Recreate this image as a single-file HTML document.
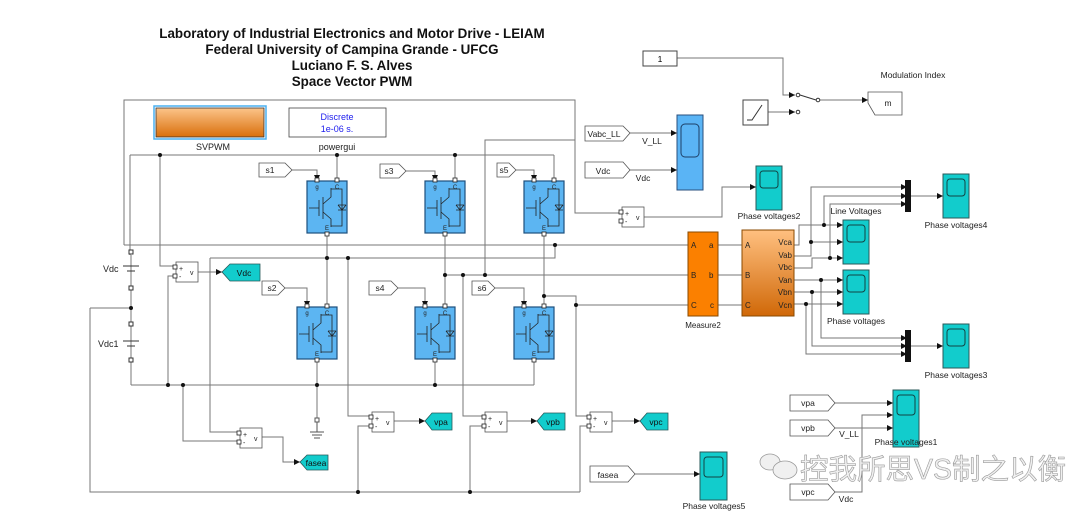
<!DOCTYPE html>
<html><head><meta charset="utf-8"><style>
html,body{margin:0;padding:0;background:#fff;}
svg{display:block;font-family:"Liberation Sans",sans-serif;}
</style></head><body>
<svg width="1080" height="520" viewBox="0 0 1080 520" xmlns="http://www.w3.org/2000/svg">
<defs>
<linearGradient id="og" x1="0" y1="0" x2="0" y2="1"><stop offset="0" stop-color="#fcc48a"/><stop offset="1" stop-color="#d96f0c"/></linearGradient>
<linearGradient id="og2" x1="0" y1="0" x2="0" y2="1"><stop offset="0" stop-color="#ffc080"/><stop offset="1" stop-color="#d06808"/></linearGradient>
<g id="igbt">
<rect x="0" y="0" width="40" height="52" fill="#5cb5f2" stroke="#1d4f7d" stroke-width="1.2"/>
<rect x="8" y="-3" width="4" height="4" fill="#fff" stroke="#222" stroke-width="0.8"/>
<rect x="28" y="-3" width="4" height="4" fill="#fff" stroke="#222" stroke-width="0.8"/>
<rect x="18" y="51" width="4" height="4" fill="#fff" stroke="#222" stroke-width="0.8"/>
<g stroke="#222" stroke-width="0.8" fill="none">
<path d="M2 27H12M12 19V35M16 16V38M16 23L24 16V7M16 31L24 38V46M24 8H35V45H24M31 24H39M31 24L35 29L39 24M31 29H39"/>
</g>
</g>
<g id="scope">
<rect x="0" y="0" width="26" height="44" fill="#12cccc" stroke="#2a5a5a" stroke-width="1"/>
<rect x="4" y="5" width="18" height="17" rx="3" fill="none" stroke="#114444" stroke-width="1"/>
</g>
<g id="vm">
<rect x="0" y="0" width="22" height="20" fill="#fff" stroke="#555" stroke-width="0.8"/>
<rect x="-3" y="3" width="4" height="4" fill="#fff" stroke="#222" stroke-width="0.8"/>
<rect x="-3" y="12" width="4" height="4" fill="#fff" stroke="#222" stroke-width="0.8"/>
</g>
</defs>

<!-- title -->
<g font-weight="bold" font-size="13.4" text-anchor="middle" fill="#111">
<text x="352" y="38">Laboratory of Industrial Electronics and Motor Drive - LEIAM</text>
<text x="352" y="54">Federal University of Campina Grande - UFCG</text>
<text x="352" y="70">Luciano F. S. Alves</text>
<text x="352" y="86">Space Vector  PWM</text>
</g>

<g stroke="#777" stroke-width="1" fill="none">
<path d="M124 245V100H575V140H485V275"/>
<path d="M575 140V213H622"/>
<path d="M130 155H554M130 155V255M160 155V266H176M337 155V181M455 155V181M554 155V181"/>
<path d="M327 236V307M124 245H688M210 258H555V245"/>
<path d="M348 258V416H372"/>
<path d="M445 236V307M445 275H688"/>
<path d="M463 275V416H485"/>
<path d="M544 236V307M544 296H576V305M576 305H688M576 305V416H590"/>
<path d="M575 100V140"/>
<path d="M131 385H534M317 362V420M435 362V385M534 362V385"/>
<path d="M168 385V276H176M183 385V441H240M210 258V432H240"/>
<path d="M131 255V385M90 308H131M90 308V492H580M358 492V426H372M470 492V426H485M580 492V426H590"/>
<path d="M292 170H317V181M406 171H435V181M516 170H534V181M285 288H307V307M398 288H425V307M495 288H524V307"/>
<path d="M198 272H222M394 421H425M507 421H537M612 421H640M262 437H283V462H300"/>
<path d="M644 217H722V187H756"/>
<path d="M718 245H742M718 275H742M718 305H742"/>
<path d="M794 245H799V225H843M824 225V196H907M794 256H811V187H907M811 242H843M794 268H812V258H843M830 258V204H907"/>
<path d="M794 280H843M821 280V338H907M794 292H843M812 292V346H907M794 304H843M806 304V354H907"/>
<path d="M911 196H943M911 346H943"/>
<path d="M630 133H677M630 170H677"/>
<path d="M677 58H783V95H795M768 112H795M818 100H868"/>
<path d="M835 403H893M835 428H862V415H893M835 492H862V428H893"/>
<path d="M635 474H700"/>
</g>
<g fill="#111">
<path d="M677 133l-6-3v6zM677 170l-6-3v6zM756 187l-6-3v6zM843 225l-6-3v6zM843 242l-6-3v6zM843 258l-6-3v6zM843 280l-6-3v6zM843 292l-6-3v6zM843 304l-6-3v6zM907 187l-6-3v6zM907 196l-6-3v6zM907 204l-6-3v6zM907 338l-6-3v6zM907 346l-6-3v6zM907 354l-6-3v6zM943 196l-6-3v6zM943 346l-6-3v6zM795 95l-6-3v6zM795 112l-6-3v6zM868 100l-6-3v6zM893 403l-6-3v6zM893 415l-6-3v6zM893 428l-6-3v6zM700 474l-6-3v6zM222 272l-6-3v6zM425 421l-6-3v6zM537 421l-6-3v6zM640 421l-6-3v6zM300 462l-6-3v6z"/>
<path d="M317 181l-3-6h6zM435 181l-3-6h6zM534 181l-3-6h6zM307 307l-3-6h6zM425 307l-3-6h6zM524 307l-3-6h6z"/>
<g>
<circle cx="160" cy="155" r="2"/><circle cx="337" cy="155" r="2"/><circle cx="455" cy="155" r="2"/>
<circle cx="327" cy="258" r="2"/><circle cx="348" cy="258" r="2"/><circle cx="555" cy="245" r="2"/>
<circle cx="445" cy="275" r="2"/><circle cx="463" cy="275" r="2"/><circle cx="485" cy="275" r="2"/>
<circle cx="544" cy="296" r="2"/><circle cx="576" cy="305" r="2"/>
<circle cx="168" cy="385" r="2"/><circle cx="183" cy="385" r="2"/><circle cx="317" cy="385" r="2"/><circle cx="435" cy="385" r="2"/>
<circle cx="131" cy="308" r="2"/><circle cx="358" cy="492" r="2"/><circle cx="470" cy="492" r="2"/>
<circle cx="824" cy="225" r="2"/><circle cx="811" cy="242" r="2"/><circle cx="830" cy="258" r="2"/>
<circle cx="821" cy="280" r="2"/><circle cx="812" cy="292" r="2"/><circle cx="806" cy="304" r="2"/>
</g>
</g>

<rect x="154" y="106" width="112" height="33" fill="none" stroke="#4ab0f0" stroke-width="1.5"/>
<rect x="156" y="108" width="108" height="29" fill="url(#og)" stroke="#333" stroke-width="0.8"/>
<text x="213" y="150" font-size="9" text-anchor="middle" fill="#222">SVPWM</text>
<rect x="289" y="108" width="97" height="29" fill="#fff" stroke="#444" stroke-width="0.8"/>
<text x="337" y="120" font-size="9" text-anchor="middle" fill="#2020ee">Discrete</text>
<text x="337" y="132" font-size="9" text-anchor="middle" fill="#2020ee">1e-06 s.</text>
<text x="337" y="150" font-size="9" text-anchor="middle" fill="#222">powergui</text>

<g font-size="6" fill="#222" text-anchor="middle">
<g transform="translate(307,181)"><use href="#igbt"/><text x="10" y="8">g</text><text x="30" y="8">C</text><text x="20" y="49">E</text></g>
<g transform="translate(425,181)"><use href="#igbt"/><text x="10" y="8">g</text><text x="30" y="8">C</text><text x="20" y="49">E</text></g>
<g transform="translate(524,181)"><use href="#igbt"/><text x="10" y="8">g</text><text x="30" y="8">C</text><text x="20" y="49">E</text></g>
<g transform="translate(297,307)"><use href="#igbt"/><text x="10" y="8">g</text><text x="30" y="8">C</text><text x="20" y="49">E</text></g>
<g transform="translate(415,307)"><use href="#igbt"/><text x="10" y="8">g</text><text x="30" y="8">C</text><text x="20" y="49">E</text></g>
<g transform="translate(514,307)"><use href="#igbt"/><text x="10" y="8">g</text><text x="30" y="8">C</text><text x="20" y="49">E</text></g>
</g>

<g fill="#fff" stroke="#555" stroke-width="0.8">
<path d="M259 163H285L292 170L285 177H259Z"/><path d="M380 164H399L406 171L399 178H380Z"/><path d="M497 163H509L516 170L509 177H497Z"/>
<path d="M262 281H278L285 288L278 295H262Z"/><path d="M369 281H391L398 288L391 295H369Z"/><path d="M472 281H488L495 288L488 295H472Z"/>
<path d="M585 126H623L630 133L623 141H585Z"/><path d="M585 162H623L630 170L623 178H585Z"/>
<path d="M590 466H628L635 474L628 482H590Z"/>
<path d="M790 395H828L835 403L828 411H790Z"/><path d="M790 420H828L835 428L828 436H790Z"/><path d="M790 484H828L835 492L828 500H790Z"/>
<path d="M868 92H902V115H875L868 103Z"/>
</g>
<g font-size="8.5" fill="#222" text-anchor="middle">
<text x="270" y="173">s1</text><text x="389" y="174">s3</text><text x="504" y="173">s5</text>
<text x="272" y="291">s2</text><text x="380" y="291">s4</text><text x="482" y="291">s6</text>
<text x="604" y="137">Vabc_LL</text><text x="603" y="174">Vdc</text>
<text x="608" y="478">fasea</text>
<text x="808" y="406">vpa</text><text x="808" y="431">vpb</text><text x="808" y="495">vpc</text>
<text x="888" y="106">m</text>
</g>

<g fill="#12cccc" stroke="#2a5a5a" stroke-width="0.8">
<path d="M222 272L230 264H260V281H230Z"/>
<path d="M300 462L307 455H328V470H307Z"/>
<path d="M425 421L432 413H452V430H432Z"/>
<path d="M537 421L544 413H565V430H544Z"/>
<path d="M640 421L647 413H668V430H647Z"/>
</g>
<g font-size="8.5" fill="#111" text-anchor="middle">
<text x="244" y="276">Vdc</text><text x="316" y="466">fasea</text>
<text x="441" y="425">vpa</text><text x="553" y="425">vpb</text><text x="656" y="425">vpc</text>
</g>

<g font-size="7" fill="#222">
<g transform="translate(176,262)"><use href="#vm"/><text x="3" y="9">+</text><text x="3" y="17">-</text><text x="14" y="13">v</text></g>
<g transform="translate(240,428)"><use href="#vm"/><text x="3" y="9">+</text><text x="3" y="17">-</text><text x="14" y="13">v</text></g>
<g transform="translate(372,412)"><use href="#vm"/><text x="3" y="9">+</text><text x="3" y="17">-</text><text x="14" y="13">v</text></g>
<g transform="translate(485,412)"><use href="#vm"/><text x="3" y="9">+</text><text x="3" y="17">-</text><text x="14" y="13">v</text></g>
<g transform="translate(590,412)"><use href="#vm"/><text x="3" y="9">+</text><text x="3" y="17">-</text><text x="14" y="13">v</text></g>
<g transform="translate(622,207)"><use href="#vm"/><text x="3" y="9">+</text><text x="3" y="17">-</text><text x="14" y="13">v</text></g>
</g>

<g stroke="#333" stroke-width="1" fill="#fff">
<rect x="129" y="250" width="4" height="4"/><rect x="129" y="286" width="4" height="4"/>
<rect x="129" y="322" width="4" height="4"/><rect x="129" y="358" width="4" height="4"/>
<path d="M123 266H139M127 271H135M123 341H139M127 346H135" fill="none"/>
</g>
<g font-size="9" fill="#222"><text x="103" y="272">Vdc</text><text x="98" y="347">Vdc1</text></g>
<g stroke="#555" fill="none"><rect x="315" y="418" width="4" height="4" fill="#fff"/><path d="M317 422V432M310 432H324M312 435H322M314 438H320"/></g>

<rect x="688" y="232" width="30" height="84" fill="#fb8000" stroke="#8a4a00"/>
<rect x="742" y="230" width="52" height="86" fill="url(#og2)" stroke="#8a4a00"/>
<g font-size="8" fill="#222">
<text x="691" y="248">A</text><text x="691" y="278">B</text><text x="691" y="308">C</text>
<text x="709" y="248">a</text><text x="709" y="278">b</text><text x="710" y="308">c</text>
<text x="745" y="248">A</text><text x="745" y="278">B</text><text x="745" y="308">C</text>
<g text-anchor="end"><text x="792" y="245">Vca</text><text x="792" y="258">Vab</text><text x="792" y="270">Vbc</text><text x="792" y="283">Van</text><text x="792" y="295">Vbn</text><text x="792" y="308">Vcn</text></g>
<text x="703" y="328" text-anchor="middle">Measure2</text>
</g>

<rect x="677" y="115" width="26" height="75" fill="#5ab4f5" stroke="#2a4f7d"/>
<rect x="681" y="124" width="18" height="33" rx="4" fill="none" stroke="#1d3f66"/>
<use href="#scope" x="756" y="166"/>
<use href="#scope" x="843" y="220"/>
<use href="#scope" x="843" y="270"/>
<use href="#scope" x="943" y="174"/>
<use href="#scope" x="943" y="324"/>
<rect x="893" y="390" width="26" height="57" fill="#12cccc" stroke="#2a5a5a"/>
<rect x="897" y="395" width="18" height="20" rx="3" fill="none" stroke="#114444"/>
<rect x="700" y="452" width="27" height="48" fill="#12cccc" stroke="#2a5a5a"/>
<rect x="704" y="457" width="19" height="20" rx="3" fill="none" stroke="#114444"/>
<rect x="905" y="180" width="6" height="32" fill="#111"/>
<rect x="905" y="330" width="6" height="32" fill="#111"/>

<g font-size="8.5" fill="#222" text-anchor="middle">
<text x="769" y="219">Phase voltages2</text>
<text x="856" y="214">Line Voltages</text>
<text x="856" y="324">Phase voltages</text>
<text x="956" y="228">Phase voltages4</text>
<text x="956" y="378">Phase voltages3</text>
<text x="906" y="445">Phase voltages1</text>
<text x="714" y="509">Phase voltages5</text>
<text x="913" y="78">Modulation Index</text>
<text x="652" y="144">V_LL</text><text x="643" y="181">Vdc</text>
<text x="849" y="437">V_LL</text><text x="846" y="502">Vdc</text>
</g>

<rect x="643" y="51" width="34" height="15" fill="#fff" stroke="#444"/>
<text x="660" y="62" font-size="8.5" text-anchor="middle">1</text>
<rect x="743" y="100" width="25" height="25" fill="#fff" stroke="#444"/>
<path d="M747 120H752L762 105" stroke="#333" fill="none"/>
<g stroke="#333" fill="#fff"><circle cx="798" cy="95" r="1.8"/><circle cx="818" cy="100" r="1.8"/><circle cx="798" cy="112" r="1.8"/></g>
<path d="M800 95L816 100" stroke="#333"/>

<g fill="#f0f0f0" stroke="#9a9a9a" stroke-width="0.8">
<ellipse cx="770" cy="462" rx="10" ry="8"/><ellipse cx="785" cy="470" rx="12" ry="9"/>
</g>
<text x="800" y="479" font-family="'Liberation Sans','Noto Sans CJK SC',sans-serif" font-size="28.5" fill="#f0f0f0" stroke="#9a9a9a" stroke-width="0.6">控我所思VS制之以衡</text>
</svg>
</body></html>
